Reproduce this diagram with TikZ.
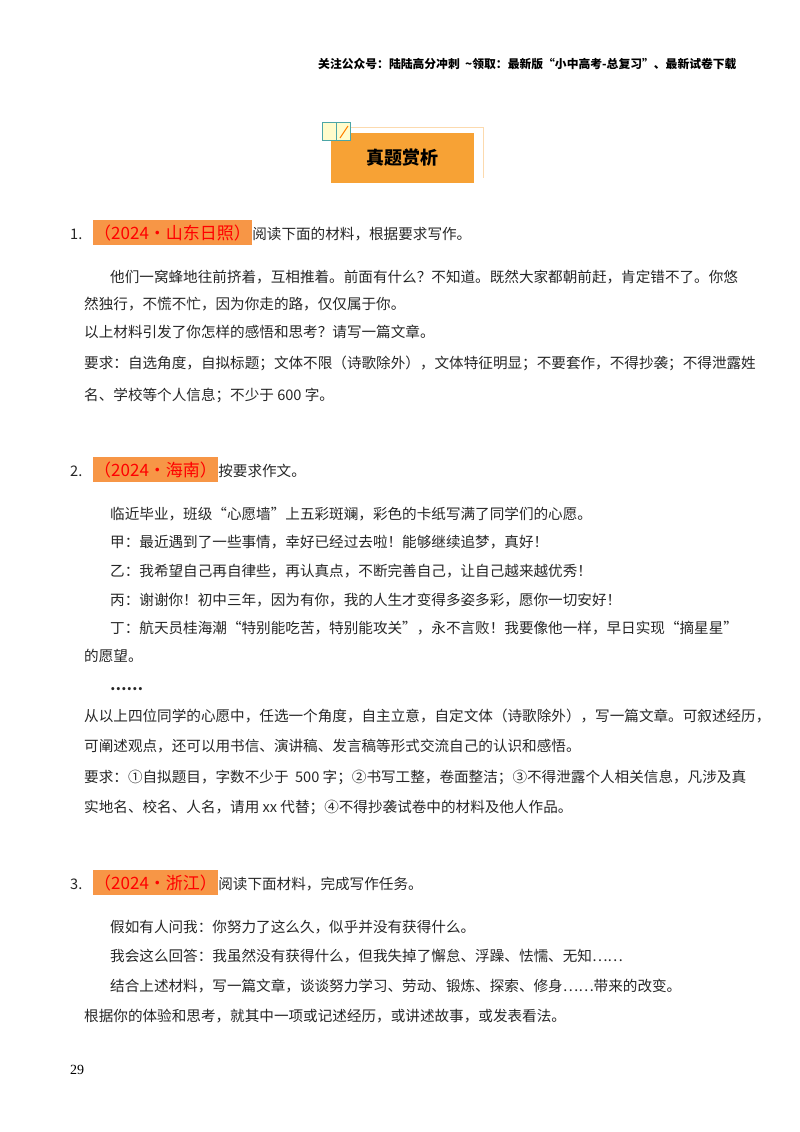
\documentclass[tikz,border=0pt]{standalone}
\usepackage{fontspec}
\newfontfamily\cjk{Noto Sans CJK SC}
\newfontfamily\tms{Liberation Serif}
\definecolor{org}{HTML}{F7A235}
\definecolor{hl}{HTML}{F79646}
\begin{document}
\begin{tikzpicture}[x=1pt,y=-1pt,
  t/.style={anchor=base west,inner sep=0pt,font=\cjk\fontsize{14.6}{15}\selectfont,text=black!85},
  hd/.style={anchor=base west,inner sep=0pt,font=\cjk\fontsize{11.8}{12}\selectfont\bfseries},
  lab/.style={anchor=base west,inner xsep=1pt,inner ysep=4pt,fill=hl,text=red,font=\cjk\fontsize{17}{18}\selectfont}]
\useasboundingbox (0,0) rectangle (800,1132);
\node[hd] (h) at (318,68) {关注公众号：陆陆高分冲刺\ \ \textasciitilde 领取：最新版“小中高考-总复习”、最新试卷下载};
% title
\draw[org!40,line width=1pt] (340,127) -- (483,127) -- (483,178);
\node[fill=org,minimum width=143,minimum height=50,inner sep=0pt,font=\cjk\fontsize{18}{18}\selectfont\bfseries] (ttl) at (402,158) {真题赏析};
\draw[fill=yellow!20,draw=teal!70] (322,122) rectangle (336,140);
\draw[fill=yellow!20,draw=teal!70] (336,122) rectangle (350,140);
\draw[orange,line width=1pt] (340,138) -- (348,126);
% 1
\node[t] (n1) at (70,239) {1.};
\node[lab,anchor=base west] (l1) at (93,239) {（2024•山东日照）};
\node[t,anchor=base west] (r1) at (l1.base east) {阅读下面的材料，根据要求写作。};
\node[t] at (110,282) {他们一窝蜂地往前挤着，互相推着。前面有什么？不知道。既然大家都朝前赶，肯定错不了。你悠};
\node[t] at (84,309) {然独行，不慌不忙，因为你走的路，仅仅属于你。};
\node[t] at (84,337) {以上材料引发了你怎样的感悟和思考？请写一篇文章。};
\node[t] at (84,368) {要求：自选角度，自拟标题；文体不限（诗歌除外），文体特征明显；不要套作，不得抄袭；不得泄露姓};
\node[t] at (84,400) {名、学校等个人信息；不少于 600 字。};
% 2
\node[t] (n2) at (70,476) {2.};
\node[lab] (l2) at (93,476) {（2024•海南）};
\node[t] (r2) at (l2.base east) {按要求作文。};
\node[t] at (110,519) {临近毕业，班级“心愿墙”上五彩斑斓，彩色的卡纸写满了同学们的心愿。};
\node[t] at (110,547) {甲：最近遇到了一些事情，幸好已经过去啦！能够继续追梦，真好！};
\node[t] at (110,576) {乙：我希望自己再自律些，再认真点，不断完善自己，让自己越来越优秀！};
\node[t] at (110,605) {丙：谢谢你！初中三年，因为有你，我的人生才变得多姿多彩，愿你一切安好！};
\node[t] at (110,633) {丁：航天员桂海潮“特别能吃苦，特别能攻关”，永不言败！我要像他一样，早日实现“摘星星”};
\node[t] at (84,661) {的愿望。};
\node[t] at (110,690) {\textbf{……}};
\node[t] at (84,721) {从以上四位同学的心愿中，任选一个角度，自主立意，自定文体（诗歌除外），写一篇文章。可叙述经历，};
\node[t] at (84,751) {可阐述观点，还可以用书信、演讲稿、发言稿等形式交流自己的认识和感悟。};
\node[t] at (84,782) {要求：①自拟题目，字数不少于\ \ 500\ 字；②书写工整，卷面整洁；③不得泄露个人相关信息，凡涉及真};
\node[t] at (84,812) {实地名、校名、人名，请用 xx 代替；④不得抄袭试卷中的材料及他人作品。};
% 3
\node[t] (n3) at (70,889) {3.};
\node[lab] (l3) at (93,889) {（2024•浙江）};
\node[t] (r3) at (l3.base east) {阅读下面材料，完成写作任务。};
\node[t] at (110,932) {假如有人问我：你努力了这么久，似乎并没有获得什么。};
\node[t] at (110,961) {我会这么回答：我虽然没有获得什么，但我失掉了懈怠、浮躁、怯懦、无知……};
\node[t] at (110,991) {结合上述材料，写一篇文章，谈谈努力学习、劳动、锻炼、探索、修身……带来的改变。};
\node[t] at (84,1021) {根据你的体验和思考，就其中一项或记述经历，或讲述故事，或发表看法。};
\node[anchor=base west,inner sep=0pt,font=\tms\fontsize{14}{14}\selectfont] (pg) at (70,1074) {29};
\end{tikzpicture}
\end{document}
